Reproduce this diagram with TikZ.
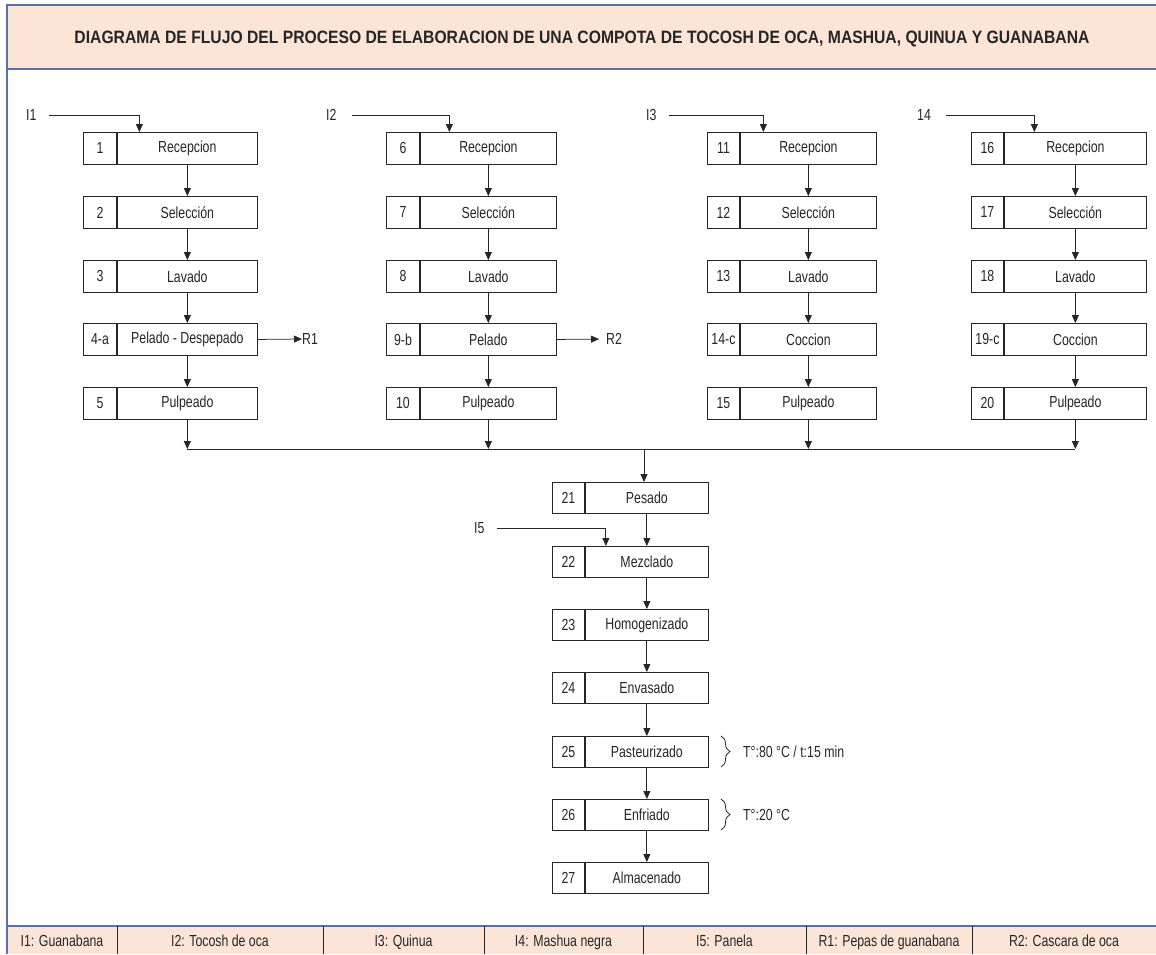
\documentclass[tikz,border=0pt]{standalone}
\usepackage{fontspec}
\setmainfont[FakeStretch=0.77]{Liberation Sans}
\usetikzlibrary{arrows.meta,decorations.pathreplacing}
\definecolor{peach}{HTML}{FCE4D6}
\definecolor{frameblue}{HTML}{5B70A8}
\definecolor{ink}{HTML}{262626}
% name, x, y, number width, main width, height, number, label
\newcommand\procbox[8]{%
  \node[cell, minimum width=#4, minimum height=#6] (#1n) at (#2,#3) {#7};
  \node[cell, minimum width=#5, minimum height=#6] (#1) at (#1n.north east) {#8};
}
\begin{document}
\begin{tikzpicture}[x=1pt,y=-1pt,
  every node/.style={font=\fontsize{16}{19}\selectfont, text=ink},
  cell/.style={draw=ink, line width=0.9pt, anchor=north west, inner sep=0pt},
  arr/.style={draw=ink, line width=0.75pt, -{Triangle[length=8pt,width=7pt]}},
  ln/.style={draw=ink, line width=0.75pt},
  lbl/.style={anchor=west, inner sep=0pt},
  leg/.style={anchor=base, inner sep=0pt},
  brc/.style={draw=ink, line width=0.8pt, decorate, decoration={brace, amplitude=9pt}}]
\useasboundingbox (0,0) rectangle (1156,954);
\fill[white] (0,0) rectangle (1156,954);

% header band and frame
\fill[peach] (7,5) rectangle (1156,69);
\draw[frameblue, line width=1.2pt] (1156,5) -- (7,5) -- (7,954);
\draw[frameblue, line width=1.2pt] (7,69) -- (1156,69);
\node[anchor=base, inner sep=0pt] (title) at (582,43)
  {\resizebox{1015pt}{12.5pt}{\bfseries DIAGRAMA DE FLUJO DEL PROCESO DE ELABORACION DE UNA COMPOTA DE TOCOSH DE OCA, MASHUA, QUINUA Y GUANABANA}};

% column 1
\procbox{a1}{83}{132}{33}{140}{32}{1}{Recepcion}
\procbox{a2}{83}{196}{33}{140}{32}{2}{Selección}
\procbox{a3}{83}{260}{33}{140}{32}{3}{Lavado}
\procbox{a4}{83}{323}{33}{140}{32}{4-a}{Pelado - Despepado}
\procbox{a5}{83}{387}{33}{140}{32}{5}{Pulpeado}
% column 2
\procbox{b1}{386}{132}{33}{136}{32}{6}{Recepcion}
\procbox{b2}{386}{196}{33}{136}{32}{7}{Selección}
\procbox{b3}{386}{260}{33}{136}{32}{8}{Lavado}
\procbox{b4}{386}{323}{33}{136}{32}{9-b}{Pelado}
\procbox{b5}{386}{387}{33}{136}{32}{10}{Pulpeado}
% column 3
\procbox{c1}{707}{132}{32}{136}{32}{11}{Recepcion}
\procbox{c2}{707}{196}{32}{136}{32}{12}{Selección}
\procbox{c3}{707}{260}{32}{136}{32}{13}{Lavado}
\procbox{c4}{707}{323}{32}{136}{32}{14-c}{Coccion}
\procbox{c5}{707}{387}{32}{136}{32}{15}{Pulpeado}
% column 4
\procbox{d1}{971}{132}{32}{142}{32}{16}{Recepcion}
\procbox{d2}{971}{196}{32}{142}{32}{17}{Selección}
\procbox{d3}{971}{260}{32}{142}{32}{18}{Lavado}
\procbox{d4}{971}{323}{32}{142}{32}{19-c}{Coccion}
\procbox{d5}{971}{387}{32}{142}{32}{20}{Pulpeado}
% central column
\procbox{e1}{552}{482}{32}{123}{31}{21}{Pesado}
\procbox{e2}{552}{546}{32}{123}{31}{22}{Mezclado}
\procbox{e3}{552}{609}{32}{123}{31}{23}{Homogenizado}
\procbox{e4}{552}{672}{32}{123}{31}{24}{Envasado}
\procbox{e5}{552}{736}{32}{123}{31}{25}{Pasteurizado}
\procbox{e6}{552}{799}{32}{123}{31}{26}{Enfriado}
\procbox{e7}{552}{862}{32}{123}{31}{27}{Almacenado}

% inputs
\node[lbl] (I1) at (26,115) {I1};
\node[lbl] (I2) at (326,115) {I2};
\node[lbl] (I3) at (646,115) {I3};
\node[lbl] (I4) at (917,115) {14};
\node[lbl] (I5) at (474,528) {I5};
\draw[arr, shorten <=12pt] (I1.east) -| ([xshift=-48]a1.north);
\draw[arr, shorten <=15pt] (I2.east) -| ([xshift=-39]b1.north);
\draw[arr, shorten <=12pt] (I3.east) -| ([xshift=-45]c1.north);
\draw[arr, shorten <=15pt] (I4.east) -| ([xshift=-41]d1.north);
\draw[arr, shorten <=12pt] (I5.east) -| ([xshift=-41]e2.north);

% residues
\node[lbl] (R1) at (302,339) {R1};
\node[lbl] (R2) at (606,339) {R2};
\draw[arr] (a4.east) -- (R1.west);
\draw[arr, shorten >=7pt] (b4.east) -- (R2.west);

% column flows
\foreach \c in {a,b,c,d}{
  \draw[arr] (\c1) -- (\c2);
  \draw[arr] (\c2) -- (\c3);
  \draw[arr] (\c3) -- (\c4);
  \draw[arr] (\c4) -- (\c5);
}
\coordinate (mg) at (644,449);
\foreach \c in {a,b,c,d}{
  \draw[arr] (\c5.south) -- (\c5.south |- mg);
}
\draw[ln] (a5.south |- mg) -- (d5.south |- mg);
\draw[arr] (mg) -- (mg |- e1.north);
\draw[arr] (e1) -- (e2);
\draw[arr] (e2) -- (e3);
\draw[arr] (e3) -- (e4);
\draw[arr] (e4) -- (e5);
\draw[arr] (e5) -- (e6);
\draw[arr] (e6) -- (e7);

% conditions
\draw[brc] (721,736) -- (721,767);
\draw[brc] (721,799) -- (721,830);
\node[lbl] (cond1) at (743,752) {T°:80 °C / t:15 min};
\node[lbl] (cond2) at (743,815) {T°:20 °C};

% legend
\fill[peach] (7,926) rectangle (1156,954);
\draw[frameblue, line width=1.2pt] (7,926) -- (1156,926);
\draw[frameblue, line width=1.2pt] (7,926) -- (7,954);
\foreach \xx in {117,323,484,643,806,972}{
  \draw[ink, line width=0.8pt] (\xx,926) -- (\xx,954);
}
\node[leg] (L1) at (62,946) {I1: Guanabana};
\node[leg] (L2) at (220,946) {I2: Tocosh de oca};
\node[leg] (L3) at (403.5,946) {I3: Quinua};
\node[leg] (L4) at (563.5,946) {I4: Mashua negra};
\node[leg] (L5) at (724.5,946) {I5: Panela};
\node[leg] (L6) at (889,946) {R1: Pepas de guanabana};
\node[leg] (L7) at (1064,946) {R2: Cascara de oca};
\end{tikzpicture}
\end{document}
